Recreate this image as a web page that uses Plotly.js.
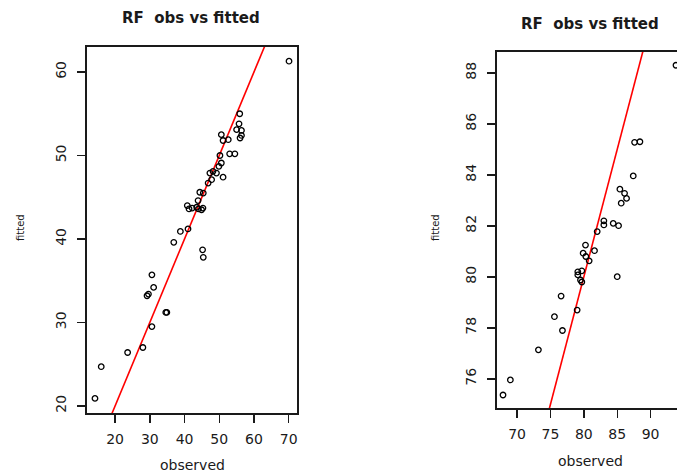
<!DOCTYPE html>
<html>
<head>
<meta charset="utf-8">
<script src="https://cdn.plot.ly/plotly-3.0.1.min.js"></script>
<style>
html,body{margin:0;padding:0;overflow:hidden;background:#fff;width:677px;height:474px;}
#chart{width:700px;height:474px;}
</style>
</head>
<body>
<div id="chart"></div>
<script>
// Left panel: observed vs fitted
const leftObserved = [70.1,14.2,16.0,23.6,28.0,30.6,34.9,34.6,29.2,29.6,31.1,30.6,36.9,38.8,41.0,45.2,45.4,
  40.8,41.3,42.2,43.5,44.0,44.9,45.3,43.9,44.4,45.4,46.8,47.3,47.8,49.2,48.2,51.1,49.9,50.6,50.2,
  53.0,54.5,50.6,51.1,52.6,55.0,56.4,56.0,56.4,55.7,55.9];
const leftFitted = [61.3,20.9,24.7,26.4,27.0,29.5,31.2,31.2,33.2,33.4,34.2,35.7,39.6,40.9,41.2,38.7,37.8,
  44.0,43.6,43.7,43.8,43.6,43.5,43.7,44.6,45.6,45.5,46.7,47.9,47.1,47.9,48.1,47.4,48.7,49.1,50.0,
  50.2,50.2,52.5,51.8,51.9,53.1,52.4,52.1,53.0,53.8,55.0];

// Right panel: observed vs fitted
const rightObserved = [67.9,69.0,73.2,76.8,75.6,76.6,79.0,79.1,79.1,79.5,79.7,79.7,80.3,79.9,80.25,80.8,
  81.6,82.0,83.0,83.0,84.4,85.2,85.0,85.4,86.1,86.4,85.6,87.4,87.6,88.4,93.8];
const rightFitted = [75.37,75.96,77.14,77.9,78.44,79.25,78.7,80.08,80.2,79.88,80.24,79.8,80.8,80.93,81.25,80.63,
  81.03,81.78,82.2,82.04,82.1,82.01,80.01,83.44,83.28,83.08,82.89,83.96,85.28,85.3,88.3];

// 1:1 reference line (y = x)
const refLine = [0, 120];

const leftXTicks = [20,30,40,50,60,70];
const leftYTicks = [20,30,40,50,60];
const rightXTicks = [70,75,80,85,90];
const rightYTicks = [76,78,80,82,84,86,88];

const panelTitle = "RF\u00a0 obs vs fitted";
const xTitle = "observed";
const yTitle = "fitted";

const W = 700, H = 474;
const FONT = "DejaVu Sans, Verdana, sans-serif";
const ink = "#1a1a1a";

const marker = {symbol: "circle-open", size: 5.5, color: "#000", line: {width: 1.3, color: "#000"}};
const redLine = {color: "#ff0000", width: 1.6};

const traces = [
  {x: refLine, y: refLine, mode: "lines", line: redLine, xaxis: "x", yaxis: "y", hoverinfo: "skip"},
  {x: leftObserved, y: leftFitted, mode: "markers", marker: marker, xaxis: "x", yaxis: "y"},
  {x: refLine, y: refLine, mode: "lines", line: redLine, xaxis: "x2", yaxis: "y2", hoverinfo: "skip"},
  {x: rightObserved, y: rightFitted, mode: "markers", marker: marker, xaxis: "x2", yaxis: "y2"}
];

function ax(domain, range, ticks, anchor, isY) {
  const a = {
    domain: domain, range: range, anchor: anchor,
    tickmode: "array", tickvals: ticks, ticktext: ticks.map(String),
    showgrid: false, zeroline: false,
    showline: true, mirror: true, linecolor: ink, linewidth: 1.6,
    ticks: "outside", ticklen: 8, tickwidth: 1.4, tickcolor: ink,
    tickfont: {family: FONT, size: 14, color: ink},
    automargin: false
  };
  if (isY) { a.tickangle = -90; a.ticklabelstandoff = 6; }
  else { a.ticklabelstandoff = 5; }
  return a;
}

const px = v => v / W, py = v => 1 - v / H;

const layout = {
  width: W, height: H,
  margin: {l: 0, r: 0, t: 0, b: 0},
  paper_bgcolor: "#fff", plot_bgcolor: "#fff",
  showlegend: false,
  xaxis: ax([px(87), px(297)], [11.9, 72.4], leftXTicks, "y", false),
  yaxis: ax([py(413), py(47)], [19.15, 63.0], leftYTicks, "x", true),
  xaxis2: ax([px(497), px(684)], [67.0, 95.0], rightXTicks, "y2", false),
  yaxis2: ax([py(408), py(52)], [74.86, 88.82], rightYTicks, "x2", true),
  annotations: [
    {text: "<b>" + panelTitle + "</b>", x: px(191), y: py(18), xref: "paper", yref: "paper", showarrow: false,
     xanchor: "center", yanchor: "middle", font: {family: FONT, size: 15, color: ink}},
    {text: "<b>" + panelTitle + "</b>", x: px(590), y: py(24), xref: "paper", yref: "paper", showarrow: false,
     xanchor: "center", yanchor: "middle", font: {family: FONT, size: 15, color: ink}},
    {text: xTitle, x: px(192), y: py(465), xref: "paper", yref: "paper", showarrow: false,
     xanchor: "center", yanchor: "middle", font: {family: FONT, size: 14, color: ink}},
    {text: xTitle, x: px(590), y: py(461), xref: "paper", yref: "paper", showarrow: false,
     xanchor: "center", yanchor: "middle", font: {family: FONT, size: 14, color: ink}},
    {text: yTitle, x: px(20), y: py(228), xref: "paper", yref: "paper", showarrow: false, textangle: -90,
     xanchor: "center", yanchor: "middle", font: {family: FONT, size: 10, color: ink}},
    {text: yTitle, x: px(435), y: py(228), xref: "paper", yref: "paper", showarrow: false, textangle: -90,
     xanchor: "center", yanchor: "middle", font: {family: FONT, size: 10, color: ink}}
  ]
};

Plotly.newPlot("chart", traces, layout, {staticPlot: true, displayModeBar: false});
</script>
</body>
</html>
